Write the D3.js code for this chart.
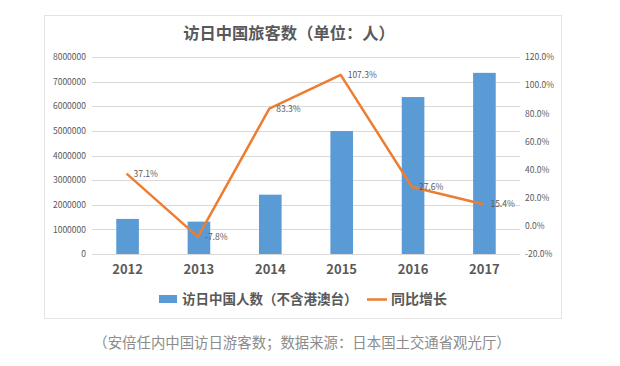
<!DOCTYPE html>
<html><head><meta charset="utf-8">
<script src="https://cdn.jsdelivr.net/npm/d3@7"></script>
<style>body{margin:0;background:#fff}svg{display:block}</style>
</head><body>
<svg id="c" width="620" height="366"></svg>
<script>
const categories = ["2012","2013","2014","2015","2016","2017"];
const visitors = [1425100, 1314437, 2409158, 4993689, 6373564, 7355818];
const growth = [37.1, -7.8, 83.3, 107.3, 27.6, 15.4];
const leftTicks = [0,1000000,2000000,3000000,4000000,5000000,6000000,7000000,8000000];
const rightTicks = [-20,0,20,40,60,80,100,120];
const titleText = "访日中国旅客数（单位：人）";
const legendBar = "访日中国人数（不含港澳台）";
const legendLine = "同比增长";
const caption = "（安倍任内中国访日游客数；数据来源：日本国土交通省观光厅）";

const svg = d3.select("#c");
const font = "'Noto Sans CJK SC','Noto Sans',sans-serif";
const L = 92, R = 520, T = 57, B = 254;

svg.append("rect").attr("x",44.5).attr("y",15.5).attr("width",517).attr("height",303)
  .attr("fill","#fff").attr("stroke","#e3e3e3");

const x = d3.scaleBand().domain(categories).range([L,R]).paddingInner(0.683).paddingOuter(0.34);
const y = d3.scaleLinear().domain([0,8000000]).range([B,T]);
const y2 = d3.scaleLinear().domain([-20,120]).range([B,T]);

// gridlines
svg.append("g").selectAll("line").data(leftTicks).join("line")
  .attr("x1",L).attr("x2",R).attr("y1",d=>Math.round(y(d))+0.5).attr("y2",d=>Math.round(y(d))+0.5)
  .attr("stroke","#d9d9d9").attr("stroke-width",1);

// left axis
const ga = svg.append("g").attr("transform",`translate(${L-6},0)`)
  .call(d3.axisLeft(y).tickValues(leftTicks).tickFormat(d3.format("d")).tickSize(0).tickPadding(0));
ga.select(".domain").remove();
ga.selectAll("text").attr("font-family",font).attr("font-size",8.5).attr("fill","#595959");

// right axis
const gb = svg.append("g").attr("transform",`translate(${R+5},0)`)
  .call(d3.axisRight(y2).tickValues(rightTicks).tickFormat(d=>d.toFixed(1)+"%").tickSize(0).tickPadding(0));
gb.select(".domain").remove();
gb.selectAll("text").attr("font-family",font).attr("font-size",8.5).attr("fill","#595959");

// x axis
const gx = svg.append("g").attr("transform",`translate(0,${B})`)
  .call(d3.axisBottom(x).tickSize(0).tickPadding(11));
gx.select(".domain").remove();
gx.selectAll("text").attr("font-family",font).attr("font-size",13).attr("font-weight","bold").attr("fill","#595959");

// bars
svg.append("g").selectAll("rect").data(visitors).join("rect")
  .attr("x",(d,i)=>x(categories[i])).attr("width",x.bandwidth())
  .attr("y",d=>y(d)).attr("height",d=>B-y(d)).attr("fill","#5b9bd5");

// line
const cx = c => x(c)+x.bandwidth()/2 - 1;
svg.append("path").datum(growth)
  .attr("d",d3.line().x((d,i)=>cx(categories[i])).y(d=>y2(d)))
  .attr("fill","none").attr("stroke","#ed7d31").attr("stroke-width",2.5).attr("stroke-linejoin","round");

// labels
svg.append("g").selectAll("text").data(growth).join("text")
  .attr("x",(d,i)=>cx(categories[i])+7).attr("y",d=>y2(d)+3)
  .attr("font-family",font).attr("font-size",8.5).attr("fill","#595959")
  .text(d=>d.toFixed(1)+"%");

// title
svg.append("text").attr("x",289).attr("y",39).attr("text-anchor","middle")
  .attr("font-family",font).attr("font-size",16.3).attr("font-weight","bold").attr("fill","#595959")
  .text(titleText);

// legend
svg.append("rect").attr("x",159).attr("y",295).attr("width",18).attr("height",8).attr("fill","#5b9bd5");
svg.append("text").attr("x",182).attr("y",304).attr("font-family",font).attr("font-size",13.5)
  .attr("font-weight","bold").attr("fill","#595959").text(legendBar);
svg.append("line").attr("x1",367).attr("x2",387).attr("y1",299.5).attr("y2",299.5)
  .attr("stroke","#ed7d31").attr("stroke-width",2.5);
svg.append("text").attr("x",391).attr("y",304).attr("font-family",font).attr("font-size",14)
  .attr("font-weight","bold").attr("fill","#595959").text(legendLine);

// caption
svg.append("text").attr("x",302).attr("y",348).attr("text-anchor","middle")
  .attr("font-family",font).attr("font-size",14.4).attr("fill","#8c8c8c").text(caption);
</script>
</body></html>
